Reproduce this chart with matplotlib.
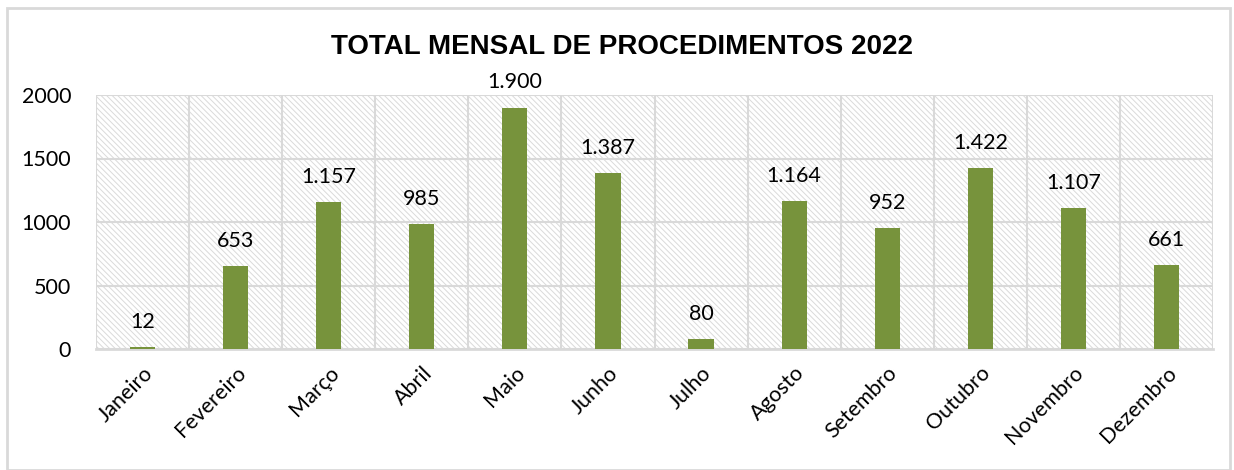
import matplotlib
matplotlib.use("Agg")
import matplotlib.pyplot as plt
from matplotlib.patches import Rectangle

months = ["Janeiro", "Fevereiro", "Março", "Abril", "Maio", "Junho",
          "Julho", "Agosto", "Setembro", "Outubro", "Novembro", "Dezembro"]
totals = [12, 653, 1157, 985, 1900, 1387, 80, 1164, 952, 1422, 1107, 661]
yticks = [0, 500, 1000, 1500, 2000]

bar_color = "#77933C"
grid_color = "#D9D9D9"
label_font = "Lato"

plt.rcParams["hatch.color"] = "#DADADA"
plt.rcParams["hatch.linewidth"] = 0.7

fig = plt.figure(figsize=(12.34, 4.70), dpi=100)

# outer chart border
fig.patches.append(Rectangle((7 / 1234, 0.0), 1223 / 1234, 462 / 470,
                             transform=fig.transFigure, fill=False,
                             edgecolor=grid_color, linewidth=2))

ax = fig.add_axes([96 / 1234, 1 - 349 / 470, 1117 / 1234, 254 / 470])
ax.patch.set_facecolor("white")
ax.patch.set_hatch("\\" * 6)
ax.patch.set_edgecolor("#DADADA")

x = list(range(len(months)))
ax.bar(x, totals, width=0.27, color=bar_color, zorder=3)

for xi, v in zip(x, totals):
    txt = f"{v:,}".replace(",", ".")
    ax.annotate(txt, (xi, v), xytext=(0, 11), textcoords="offset points",
                ha="center", va="bottom", fontsize=15.5, family=label_font,
                color="black")

ax.set_xlim(-0.5, len(months) - 0.5)
ax.set_ylim(0, 2000)
ax.set_yticks(yticks)
ax.set_yticklabels([str(t) for t in yticks], fontsize=15.5, family=label_font)
ax.set_xticks(x)
ax.set_xticklabels(months, fontsize=15.5, family=label_font, rotation=45,
                   ha="right", rotation_mode="anchor")
ax.set_xticks([i + 0.5 for i in range(-1, len(months))], minor=True)
ax.tick_params(axis="both", which="both", length=0)
ax.tick_params(axis="y", pad=18)
ax.tick_params(axis="x", pad=10)

ax.grid(axis="y", which="major", color=grid_color, linewidth=1.5, zorder=1)
ax.grid(axis="x", which="minor", color=grid_color, linewidth=1.5, zorder=1)
ax.set_axisbelow(True)
for s in ax.spines.values():
    s.set_visible(False)
ax.spines["bottom"].set_visible(True)
ax.spines["bottom"].set_color(grid_color)
ax.spines["bottom"].set_linewidth(2)

fig.text(622 / 1234, 1 - 47 / 470, "TOTAL MENSAL DE PROCEDIMENTOS 2022",
         ha="center", va="center", fontsize=20, fontweight="bold",
         family="Liberation Sans")

fig.savefig("out.png", dpi=100)
